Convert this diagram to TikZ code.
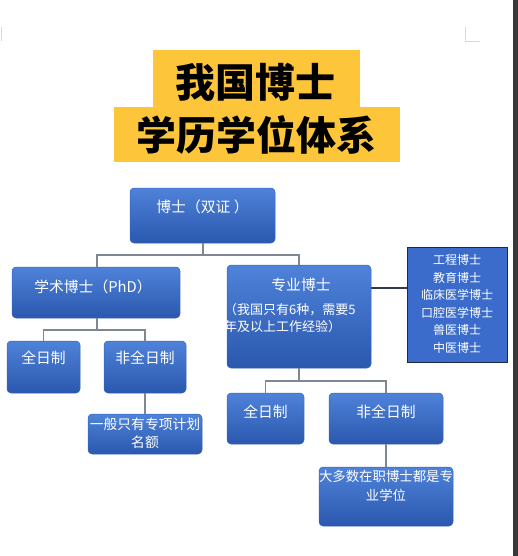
\documentclass[tikz,border=0pt]{standalone}
\usepackage{fontspec}
\newfontfamily\cjk{Noto Sans CJK SC}
\newfontfamily\cjkblack{Noto Sans CJK SC Black}
\definecolor{ttlbg}{HTML}{FCC53A}
\definecolor{boxtop}{HTML}{4F82D9}
\definecolor{boxbot}{HTML}{2A58AE}
\definecolor{boxedge}{HTML}{3A66B8}
\definecolor{listfill}{HTML}{3B6CCB}
\definecolor{listedge}{HTML}{1E2A44}
\definecolor{connc}{HTML}{7E8894}
\begin{document}
\begin{tikzpicture}[x=1pt,y=-1pt,
  bluebox/.style={rounded corners=4pt, top color=boxtop, bottom color=boxbot, draw=boxedge, line width=0.5pt, inner sep=0pt},
  lbl/.style={text=white, inner sep=0pt, font=\cjk\fontsize{14.8}{16}\selectfont},
  notetxt/.style={text=white, inner sep=0pt, align=center, font=\cjk\fontsize{13.8}{18.5}\selectfont},
  conn/.style={draw=connc, line width=1.5pt},
  ttlbox/.style={fill=ttlbg, inner sep=0pt},
  ttltxt/.style={inner sep=0pt, font=\cjkblack\fontsize{40}{40}\selectfont, text=black}
]
\useasboundingbox (0,0) rectangle (518,556);
\fill[white] (0,0) rectangle (518,556);
% page artifacts
\fill[black!78] (513,0) rectangle (518,556);
\draw[black!15, line width=0.8pt] (465,27) -- (465,41) -- (480,41);
\draw[black!15, line width=0.8pt] (1,27) -- (1,41);

% title
\node[ttlbox, minimum width=207pt, minimum height=57pt] (t1) at (256.5,78.5) {};
\node[ttlbox, minimum width=286pt, minimum height=55pt] (t2) at (257,134.5) {};
\node[ttltxt] (t1txt) at (255,82) {我国博士};
\node[ttltxt] (t2txt) at (256,135) {学历学位体系};

% boxes
\node[bluebox, minimum width=145pt, minimum height=55pt] (root) at (202.5,215.5) {};
\node[lbl] (rootT) at (202.5,207) {博士（双证 ）};

\node[bluebox, minimum width=168pt, minimum height=51pt] (phd) at (96,292.5) {};
\node[lbl] (phdT) at (93,287) {学术博士（PhD）};

\node[bluebox, minimum width=144pt, minimum height=103pt] (prof) at (299,316.5) {};
\node[lbl] (profT) at (301,285) {专业博士};
\node[text=white, inner sep=0pt, align=left, anchor=west, font=\cjk\fontsize{13}{17}\selectfont] (profN) at (224,318.5) {（我国只有6种，需要5\\年及以上工作经验）};

\node[fill=listfill, draw=listedge, line width=1pt, minimum width=100pt, minimum height=115pt, inner sep=0pt] (list) at (457,304.5) {};
\node[text=white, inner sep=0pt, align=center, font=\cjk\fontsize{12}{17.5}\selectfont] (listT) at (457,304) {工程博士\\教育博士\\临床医学博士\\口腔医学博士\\兽医博士\\中医博士};

\node[bluebox, minimum width=73pt, minimum height=52pt] (lft) at (43.5,367) {};
\node[lbl] (lftT) at (43.5,358) {全日制};
\node[bluebox, minimum width=82pt, minimum height=52pt] (lpt) at (145,367) {};
\node[lbl] (lptT) at (145,358) {非全日制};
\node[bluebox, minimum width=114pt, minimum height=40pt] (lnote) at (145,434) {};
\node[notetxt] (lnoteT) at (145,433.5) {一般只有专项计划\\名额};

\node[bluebox, minimum width=77pt, minimum height=51pt] (rft) at (265.5,418.5) {};
\node[lbl] (rftT) at (265.5,412) {全日制};
\node[bluebox, minimum width=114pt, minimum height=51pt] (rpt) at (386,418.5) {};
\node[lbl] (rptT) at (386,412) {非全日制};
\node[bluebox, minimum width=134pt, minimum height=59pt] (rnote) at (386,496.5) {};
\node[notetxt, font=\cjk\fontsize{13.4}{18.5}\selectfont] (rnoteT) at (386,486) {大多数在职博士都是专\\业学位};

% connectors
\coordinate (j1) at (203,255);
\coordinate (j2) at (97,330);
\coordinate (j3) at (299,381);
\draw[conn] (root.south -| j1) -- (j1);
\draw[conn] (phd.north -| j2) |- (j1) -| (prof.north);
\draw[conn] (phd.south -| j2) -- (j2);
\draw[conn] (lft.north) |- (j2) -| (lpt.north);
\draw[conn] (lpt.south) -- (lnote.north);
\draw[conn] (prof.south) -- (j3);
\draw[conn] (rft.north) |- (j3) -| (rpt.north);
\draw[conn] (rpt.south) -- (rnote.north);
\draw[conn, draw=listedge!80!gray] (prof.east |- 0,288) -- (list.west |- 0,288);
\end{tikzpicture}
\end{document}
